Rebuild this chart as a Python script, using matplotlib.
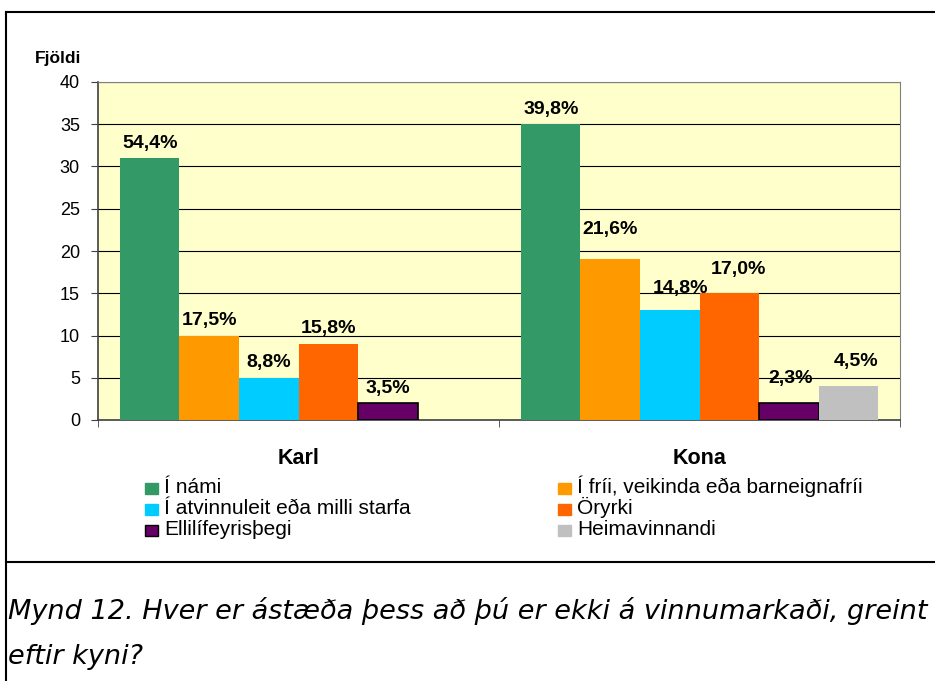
import matplotlib.pyplot as plt
from matplotlib.lines import Line2D
from matplotlib.patches import Rectangle
import numpy as np

# gögn
groups = ["Karl", "Kona"]
series = ["Í námi", "Í fríi, veikinda eða barneignafríi", "Í atvinnuleit eða milli starfa",
          "Öryrki", "Ellilífeyrisþegi", "Heimavinnandi"]
karl = [31, 10, 5, 9, 2, 0]
kona = [35, 19, 13, 15, 2, 4]
karl_pct = ["54,4%", "17,5%", "8,8%", "15,8%", "3,5%", ""]
kona_pct = ["39,8%", "21,6%", "14,8%", "17,0%", "2,3%", "4,5%"]

colors = ["#339966", "#FF9900", "#00CCFF", "#FF6600", "#660066", "#C0C0C0"]
edges = ["none", "none", "none", "none", "black", "none"]
# staðsetning merkimiða (pixlar)
karl_off = [(0, 15), (0, 15), (0, 15), (0, 15), (0, 15), (0, 15)]
kona_off = [(0, 15), (0, 30), (11, 22), (9, 24), (2, 25), (8, 25)]

W, H = 935, 681
fig = plt.figure(figsize=(W / 100, H / 100), dpi=100)
plt.rcParams['font.family'] = ['Liberation Sans', 'DejaVu Sans']

ax = fig.add_axes([98 / W, 1 - 420 / H, 802 / W, 338 / H])
ax.set_facecolor("#FFFFCC")

bw = 0.1484
x = np.arange(len(groups))
vals = np.array([karl, kona])
for i in range(len(series)):
    pos = x - 2.5 * bw + i * bw
    ax.bar(pos, vals[:, i], width=bw, color=colors[i], edgecolor=edges[i],
           linewidth=1.2 if edges[i] != "none" else 0, zorder=3)
    for j, (lab, off) in enumerate([(karl_pct[i], karl_off[i]), (kona_pct[i], kona_off[i])]):
        if lab:
            ax.annotate(lab, (pos[j], vals[j, i]), xytext=off, textcoords='offset pixels',
                        ha='center', va='center', fontsize=14, fontweight='bold', zorder=4)

ax.set_xlim(-0.5, 1.5)
ax.set_ylim(0, 40)
ax.set_yticks(range(0, 41, 5))
ax.yaxis.grid(True, color='black', linewidth=0.8, zorder=0)
ax.tick_params(axis='y', labelsize=13, length=5, pad=8, color='#404040')
ax.set_xticks(x)
ax.set_xticklabels(groups, fontsize=15.5, fontweight='bold')
ax.set_xticks([-0.5, 0.5, 1.5], minor=True)
ax.tick_params(axis='x', which='major', length=0, pad=20)
ax.tick_params(axis='x', which='minor', length=5, color='#404040')
for s in ['left', 'bottom']:
    ax.spines[s].set_color('#404040')
    ax.spines[s].set_linewidth(1.2)
for s in ['top', 'right']:
    ax.spines[s].set_color('#808080')
    ax.spines[s].set_linewidth(0.8)

fig.text(35 / W, 1 - 58 / H, "Fjöldi", ha='left', va='center', fontsize=12.5, fontweight='bold')

# skýringar (tveir dálkar, Excel röð)
leg_order = [0, 2, 4, 1, 3, 5]
col_x = [145, 558]
row_base = [493, 514, 535]
for k, i in enumerate(leg_order):
    cx = col_x[k // 3]
    by = row_base[k % 3]
    ec = edges[i] if edges[i] != "none" else colors[i]
    fig.add_artist(Rectangle((cx / W, 1 - (by + 1) / H), 13 / W, 11 / H, facecolor=colors[i],
                             edgecolor=ec, linewidth=1, transform=fig.transFigure))
    fig.text((cx + 19) / W, 1 - by / H, series[i], ha='left', va='baseline', fontsize=15)

# rammar
lw = 1.5
fig.add_artist(Line2D([6 / W, 6 / W], [0, 1 - 12 / H], color='black', lw=lw, transform=fig.transFigure))
fig.add_artist(Line2D([6 / W, 1], [1 - 12 / H, 1 - 12 / H], color='black', lw=lw, transform=fig.transFigure))
fig.add_artist(Line2D([6 / W, 1], [1 - 562 / H, 1 - 562 / H], color='black', lw=lw, transform=fig.transFigure))

cap_kw = dict(ha='left', va='baseline', fontsize=19.5, style='italic', family='DejaVu Sans')
fig.text(8 / W, 1 - 619 / H, "Mynd 12. Hver er ástæða þess að þú er ekki á vinnumarkaði, greint", **cap_kw)
fig.text(8 / W, 1 - 664 / H, "eftir kyni?", **cap_kw)

fig.savefig("out.png", dpi=100)
